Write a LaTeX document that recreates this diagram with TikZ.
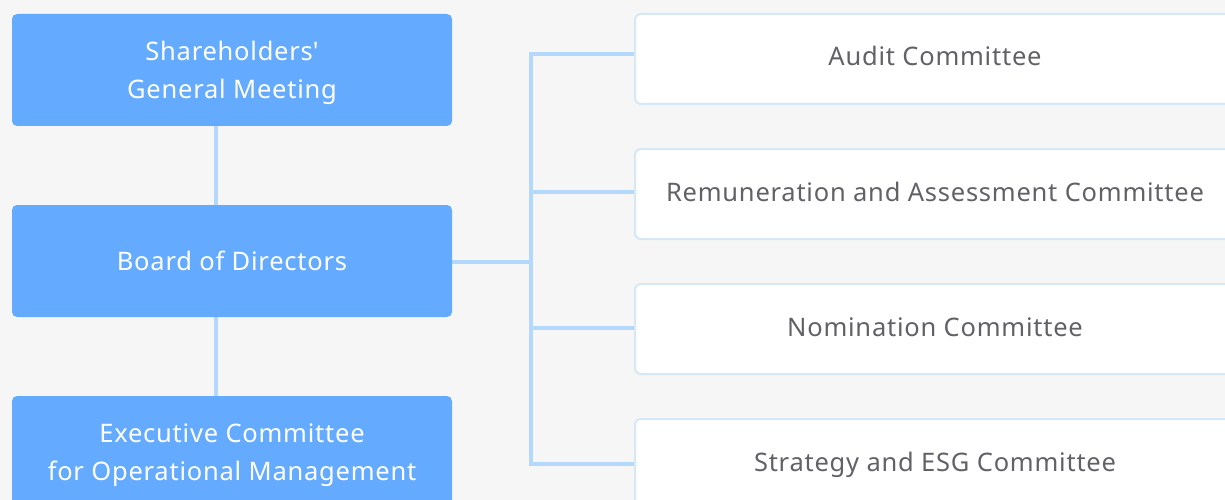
\documentclass[tikz,border=0pt]{standalone}
\usepackage{fontspec}
\setmainfont{Noto Sans}[LetterSpace=3.0]
\usepackage{tikz}
\usetikzlibrary{shapes}
\definecolor{organblue}{RGB}{100,170,255}
\definecolor{linkblue}{RGB}{179,216,251}
\definecolor{framegrey}{RGB}{214,231,245}
\definecolor{textgrey}{RGB}{96,98,102}
\definecolor{pagegrey}{RGB}{246,246,246}
\tikzstyle{none}=[inner sep=0pt]
\tikzstyle{organ}=[rectangle,rounded corners=5pt,fill=organblue,draw=none,text=white,minimum width=440pt,minimum height=112pt,align=center,font=\fontsize{25.5}{38}\selectfont]
\tikzstyle{organtwo}=[style=organ,text height=63.5pt]
\tikzstyle{committee}=[rectangle,rounded corners=6pt,fill=white,draw=framegrey,line width=2pt,text=textgrey,minimum width=600pt,minimum height=90pt,text height=19pt,text depth=5pt,font=\fontsize{25.5}{38}\selectfont]
\tikzstyle{link}=[-,draw=linkblue,line width=4pt]
\pgfdeclarelayer{bglayer}
\pgfdeclarelayer{edgelayer}
\pgfdeclarelayer{nodelayer}
\pgfsetlayers{bglayer,edgelayer,nodelayer,main}

\begin{document}
\begin{tikzpicture}[x=100pt,y=-100pt]
	\useasboundingbox (0, 0) rectangle (12.25, 5);
	\begin{pgfonlayer}{bglayer}
		\fill [pagegrey] (0, 0) rectangle (12.25, 5);
	\end{pgfonlayer}
	\begin{pgfonlayer}{nodelayer}
		\node [style=organtwo] (sgm) at (2.32, 0.70) {Shareholders\textquotesingle\\General Meeting};
		\node [style=organ] (bod) at (2.32, 2.61) {Board of Directors};
		\node [style=organtwo] (ecom) at (2.32, 4.52) {Executive Committee\\for Operational Management};

		\node [style=committee] (audit) at (9.35, 0.59) {Audit Committee};
		\node [style=committee] (remu) at (9.35, 1.94) {Remuneration and Assessment Committee};
		\node [style=committee] (nomi) at (9.35, 3.29) {Nomination Committee};
		\node [style=committee] (esg) at (9.35, 4.64) {Strategy and ESG Committee};

		\node [style=none] (s1) at (2.16, 1.26) {};
		\node [style=none] (s2) at (2.16, 2.05) {};
		\node [style=none] (s3) at (2.16, 3.17) {};
		\node [style=none] (s4) at (2.16, 3.96) {};

		\node [style=none] (t1) at (4.52, 2.62) {};
		\node [style=none] (t2) at (5.31, 2.62) {};

		\node [style=none] (b1) at (5.31, 0.54) {};
		\node [style=none] (b2) at (5.31, 1.92) {};
		\node [style=none] (b3) at (5.31, 3.28) {};
		\node [style=none] (b4) at (5.31, 4.64) {};
		\node [style=none] (e1) at (6.35, 0.54) {};
		\node [style=none] (e2) at (6.35, 1.92) {};
		\node [style=none] (e3) at (6.35, 3.28) {};
		\node [style=none] (e4) at (6.35, 4.64) {};
	\end{pgfonlayer}
	\begin{pgfonlayer}{edgelayer}
		\draw [style=link] (s1.center) to (s2.center);
		\draw [style=link] (s3.center) to (s4.center);
		\draw [style=link] (t1.center) to (t2.center);
		\draw [style=link] (e1.center) to (b1.center) to (b4.center) to (e4.center);
		\draw [style=link] (b2.center) to (e2.center);
		\draw [style=link] (b3.center) to (e3.center);
	\end{pgfonlayer}
\end{tikzpicture}
\end{document}
